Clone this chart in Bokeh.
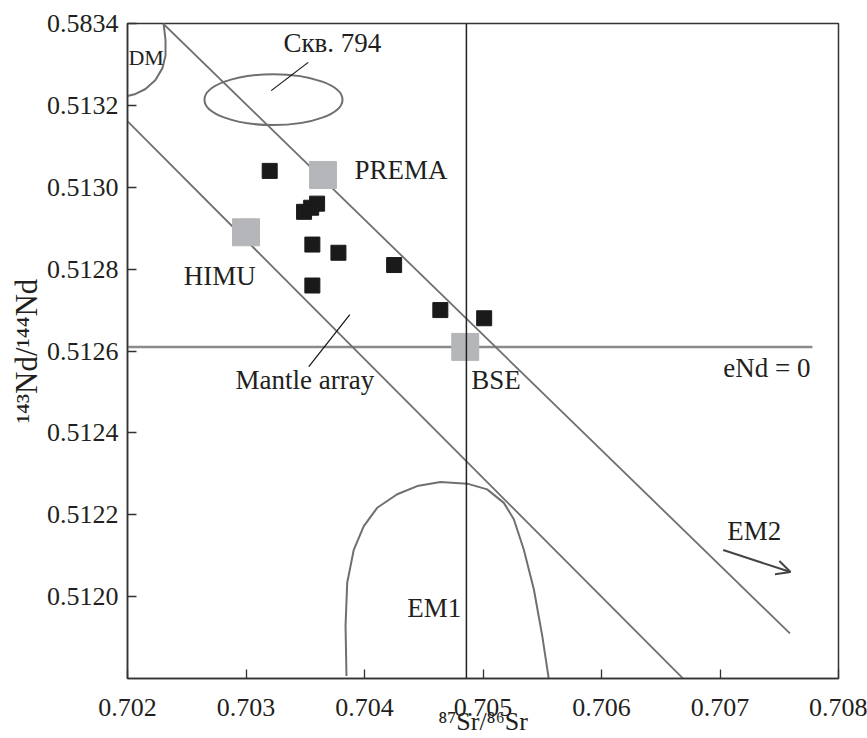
from bokeh.plotting import figure
from bokeh.models import Range1d, FixedTicker, Span, Arrow, OpenHead, ColumnDataSource
from bokeh.embed import file_html
from bokeh.resources import INLINE
from bokeh.core.properties import value

# ---------------- data ----------------
x_ticks = [0.702, 0.703, 0.704, 0.705, 0.706, 0.707, 0.708]
x_tick_labels = ["0.702", "0.703", "0.704", "0.705", "0.706", "0.707", "0.708"]
y_ticks = [0.5120, 0.5122, 0.5124, 0.5126, 0.5128, 0.5130, 0.5132, 0.5134]
y_tick_labels = ["0.5120", "0.5122", "0.5124", "0.5126", "0.5128", "0.5130", "0.5132", "0.5834"]

sample_sr = [0.70320, 0.70349, 0.70355, 0.70360, 0.70356, 0.70378, 0.70425, 0.70356, 0.70464, 0.70501]
sample_nd = [0.51304, 0.51294, 0.51295, 0.51296, 0.51286, 0.51284, 0.51281, 0.51276, 0.51270, 0.51268]

reservoir_names = ["PREMA", "HIMU", "BSE"]
reservoir_sr = [0.70365, 0.70300, 0.70485]
reservoir_nd = [0.51303, 0.51289, 0.51261]

# mantle array boundaries
mantle_upper_sr = [0.70230, 0.70759]
mantle_upper_nd = [0.51340, 0.51191]
mantle_lower_sr = [0.70197, 0.70686]
mantle_lower_nd = [0.51317, 0.51175]

# eNd = 0 line and BSE Sr line
end0_sr = [0.70200, 0.70778]
end0_nd = [0.51261, 0.51261]
bse_sr_line = 0.70486

# DM field boundary
dm_sr = [0.702304, 0.702321, 0.702321, 0.702295, 0.702236, 0.702152, 0.702068, 0.702000]
dm_nd = [0.513401, 0.513359, 0.513322, 0.513291, 0.513262, 0.513240, 0.513228, 0.513223]

# EM1 field boundary
em1_sr = [0.703848, 0.703840, 0.703854, 0.703910, 0.703994, 0.704107, 0.704276, 0.704445,
          0.704641, 0.704867, 0.705035, 0.705176, 0.705260, 0.705344, 0.705429, 0.705500, 0.705564]
em1_nd = [0.511806, 0.511928, 0.512034, 0.512115, 0.512172, 0.512217, 0.512250, 0.512270,
          0.512280, 0.512276, 0.512262, 0.512229, 0.512189, 0.512115, 0.512018, 0.511904, 0.511782]

# well 794 field (ellipse)
well_sr = 0.703232
well_nd = 0.513214
well_w = 0.001165
well_h = 0.0001244

# text labels
label_text = ["DM", "Скв. 794", "PREMA", "HIMU", "Mantle array", "BSE", "eNd = 0", "EM2", "EM1"]
label_sr = [0.702008, 0.703316, 0.703916, 0.702475, 0.702911, 0.704900, 0.707027, 0.707061, 0.704360]
label_nd = [0.513318, 0.513352, 0.513042, 0.512784, 0.512528, 0.512528, 0.512559, 0.512160, 0.511973]

# leader lines
leader_x0 = [0.703525, 0.703876]
leader_y0 = [0.513305, 0.512689]
leader_x1 = [0.703213, 0.703530]
leader_y1 = [0.513236, 0.512562]

# EM2 arrow
em2_arrow = (0.707027, 0.512114, 0.707595, 0.512060)

x_title = "⁸⁷Sr/⁸⁶Sr"
y_title = "¹⁴³Nd/¹⁴⁴Nd"

# ---------------- styling ----------------
FONT = "Liberation Serif"
TXT = "#231f20"
GRAY_LINE = "#6f6f6f"

p = figure(width=867, height=738, output_backend="svg", toolbar_location=None,
           x_range=Range1d(0.702, 0.708), y_range=Range1d(0.5118, 0.5134),
           min_border_left=127, min_border_right=29, min_border_top=23, min_border_bottom=60,
           background_fill_color="white", border_fill_color="white")
p.grid.visible = False
p.outline_line_color = "#333333"
p.outline_line_width = 1.5

for ax in (p.xaxis[0], p.yaxis[0]):
    ax.axis_line_color = "#333333"
    ax.axis_line_width = 1.5
    ax.major_tick_in = 9
    ax.major_tick_out = 0
    ax.major_tick_line_color = "#333333"
    ax.major_tick_line_width = 1.3
    ax.minor_tick_line_color = None
    ax.major_label_text_font = FONT
    ax.major_label_text_font_size = "26px"
    ax.major_label_text_color = TXT
    ax.axis_label_text_font = FONT
    ax.axis_label_text_font_style = "normal"
    ax.axis_label_text_color = TXT

p.xaxis.ticker = FixedTicker(ticks=x_ticks)
p.yaxis.ticker = FixedTicker(ticks=y_ticks)
p.xaxis.major_label_overrides = {t: l for t, l in zip(x_ticks, x_tick_labels)}
p.yaxis.major_label_overrides = {t: l for t, l in zip(y_ticks, y_tick_labels)}
p.xaxis.major_label_standoff = 20
p.yaxis.major_label_standoff = 9
p.xaxis.axis_label = x_title
p.yaxis.axis_label = y_title
p.xaxis.axis_label_text_font_size = "26px"
p.yaxis.axis_label_text_font_size = "31px"
p.xaxis.axis_label_standoff = -12
p.yaxis.axis_label_standoff = 0

# lines
p.line(end0_sr, end0_nd, line_color="#8a8a8a", line_width=2.5)
p.add_layout(Span(location=bse_sr_line, dimension="height", line_color="#222222", line_width=1.5))
p.line(mantle_upper_sr, mantle_upper_nd, line_color=GRAY_LINE, line_width=1.8)
p.line(mantle_lower_sr, mantle_lower_nd, line_color=GRAY_LINE, line_width=1.8)
p.line(dm_sr, dm_nd, line_color=GRAY_LINE, line_width=2)
p.line(em1_sr, em1_nd, line_color=GRAY_LINE, line_width=2)
p.ellipse(x=[well_sr], y=[well_nd], width=[well_w], height=[well_h],
          fill_color=None, line_color=GRAY_LINE, line_width=2)
p.segment(x0=leader_x0, y0=leader_y0, x1=leader_x1, y1=leader_y1, line_color="#111111", line_width=1.2)

p.add_layout(Arrow(end=OpenHead(size=14, line_width=2, line_color="#444444"),
                   x_start=em2_arrow[0], y_start=em2_arrow[1], x_end=em2_arrow[2], y_end=em2_arrow[3],
                   line_width=2, line_color="#444444"))

# points
p.scatter(reservoir_sr, reservoir_nd, marker="square", size=27,
          fill_color="#b5b6b9", line_color="#b5b6b9")
p.scatter(sample_sr, sample_nd, marker="square", size=15,
          fill_color="#1a1a1a", line_color="#1a1a1a")

# labels
sizes = ["22px" if t == "DM" else "27px" for t in label_text]
src = ColumnDataSource(dict(x=label_sr, y=label_nd, t=label_text, s=sizes))
p.text(x="x", y="y", text="t", source=src, text_font=value(FONT), text_font_size="s",
       text_color=TXT, text_align="left", text_baseline="middle")

open("out.html", "w").write(file_html(p, INLINE))
